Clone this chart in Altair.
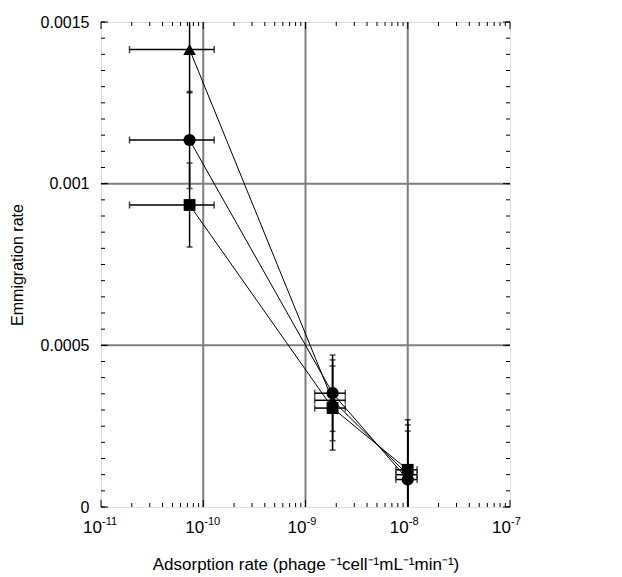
import altair as alt
import pandas as pd

# ---- data ----
series = ["triangle", "circle", "square"]
x_vals = [7.35e-11, 1.84e-9, 1.0e-8]
x_errs = [5.45e-11, 6.1e-10, 2.35e-9]
y_triangle = [0.001415, 0.00033, 0.0001]
e_triangle = [0.000134, 0.000125, 0.000154]
y_circle = [0.001135, 0.000352, 0.000085]
e_circle = [0.00015, 0.000118, 0.00015]
y_square = [0.000934, 0.000306, 0.000115]
e_square = [0.00013, 0.00013, 0.000155]

x_major = [1e-11, 1e-10, 1e-9, 1e-8, 1e-7]
x_exponents = ["-11", "-10", "-9", "-8", "-7"]
x_grid = [1e-10, 1e-9, 1e-8]
minor_mantissas = [2, 3, 4, 5, 6, 7, 8, 9]
decades = [1e-11, 1e-10, 1e-9, 1e-8]
y_labels = [0, 0.0005, 0.001, 0.0015]
y_grid = [0.0005, 0.001]
y_minor_count = 31
y_minor_step = 0.00005

# ---- layout ----
W, H = 409, 485
FONT = "Liberation Sans"
MAJ, MIN = 7, 4

ys_map = {"triangle": (y_triangle, e_triangle),
          "circle": (y_circle, e_circle),
          "square": (y_square, e_square)}
rows = []
for s in series:
    yv, ye = ys_map[s]
    for i in range(len(x_vals)):
        rows.append(dict(series=s, idx=i, x=x_vals[i], y=yv[i],
                         xlo=x_vals[i] - x_errs[i], xhi=x_vals[i] + x_errs[i],
                         ylo=yv[i] - ye[i], yhi=yv[i] + ye[i]))
pts = pd.DataFrame(rows)

xcaps = pd.concat([pts[["xlo", "y"]].rename(columns={"xlo": "x"}),
                   pts[["xhi", "y"]].rename(columns={"xhi": "x"})])
ycaps = pd.concat([pts[["x", "ylo"]].rename(columns={"ylo": "y"}),
                   pts[["x", "yhi"]].rename(columns={"yhi": "y"})])

x_minor = pd.DataFrame({"v": [m * d for d in decades for m in minor_mantissas]})
x_maj = pd.DataFrame({"v": x_major, "base": ["10"] * len(x_major), "exp": x_exponents})
y_minor = pd.DataFrame({"v": [i * y_minor_step for i in range(y_minor_count)]})
y_maj = pd.DataFrame({"v": y_labels})

xs = alt.Scale(type="log", domain=[1e-11, 1e-7])
ysc = alt.Scale(domain=[0, 0.0015], nice=False, zero=False)

x_axis = alt.Axis(labels=False, ticks=False, domain=False, grid=False,
                  title="Adsorption rate (phage \u207b\u00b9cell\u207b\u00b9mL\u207b\u00b9min\u207b\u00b9)",
                  titleY=57, titleBaseline="middle", titleFontSize=17,
                  titleFontWeight="normal", titleColor="black", titleFont=FONT)
y_axis = alt.Axis(values=y_labels, format="~g", ticks=False, domain=False, grid=False,
                  labelPadding=12, labelFontSize=16, labelColor="black", labelFont=FONT,
                  title="Emmigration rate", titleX=-84, titleY=H / 2, titleAngle=-90,
                  titleBaseline="middle", titleFontSize=16, titleFontWeight="normal",
                  titleColor="black", titleFont=FONT)

X = lambda f: alt.X(f, scale=xs, axis=x_axis)
Y = lambda f: alt.Y(f, scale=ysc, axis=y_axis)

grid_x = alt.Chart(pd.DataFrame({"v": x_grid})).mark_rule(color="#7f7f7f", strokeWidth=2).encode(x=X("v:Q"))
grid_y = alt.Chart(pd.DataFrame({"v": y_grid})).mark_rule(color="#7f7f7f", strokeWidth=2).encode(y=Y("v:Q"))

def xticks(df, ln):
    b = alt.Chart(df).mark_rule(color="black", strokeWidth=1).encode(
        x=X("v:Q"), y=alt.value(H), y2=alt.value(H - ln))
    t = alt.Chart(df).mark_rule(color="black", strokeWidth=1).encode(
        x=X("v:Q"), y=alt.value(0), y2=alt.value(ln))
    return b + t

def yticks(df, ln):
    l = alt.Chart(df).mark_rule(color="black", strokeWidth=1).encode(
        y=Y("v:Q"), x=alt.value(0), x2=alt.value(ln))
    r = alt.Chart(df).mark_rule(color="black", strokeWidth=1).encode(
        y=Y("v:Q"), x=alt.value(W), x2=alt.value(W - ln))
    return l + r

xlab = alt.Chart(x_maj).mark_text(align="right", baseline="top", dx=1, fontSize=17,
                                  font=FONT, color="black").encode(
    x=X("v:Q"), y=alt.value(H + 13), text="base:N")
xexp = alt.Chart(x_maj).mark_text(align="left", baseline="top", dx=1, fontSize=11,
                                  font=FONT, color="black").encode(
    x=X("v:Q"), y=alt.value(H + 9), text="exp:N")

xerr = alt.Chart(pts).mark_rule(color="black", strokeWidth=1.5, clip=True).encode(
    x=X("xlo:Q"), x2="xhi:Q", y=Y("y:Q"))
yerr = alt.Chart(pts).mark_rule(color="black", strokeWidth=1.5, clip=True).encode(
    x=X("x:Q"), y=Y("ylo:Q"), y2="yhi:Q")
xcap = alt.Chart(xcaps).mark_tick(orient="vertical", size=7, thickness=1.5,
                                  color="black", clip=True).encode(x=X("x:Q"), y=Y("y:Q"))
ycap = alt.Chart(ycaps).mark_tick(orient="horizontal", size=6, thickness=1.5,
                                  color="black", clip=True).encode(x=X("x:Q"), y=Y("y:Q"))

lines = alt.Chart(pts).mark_line(color="black", strokeWidth=1).encode(
    x=X("x:Q"), y=Y("y:Q"), detail="series:N", order="idx:Q")
points = alt.Chart(pts).mark_point(filled=True, opacity=1, color="black", strokeWidth=0).encode(
    x=X("x:Q"), y=Y("y:Q"),
    shape=alt.Shape("series:N", scale=alt.Scale(domain=series, range=["triangle-up", "circle", "square"]), legend=None),
    size=alt.Size("series:N", scale=alt.Scale(domain=series, range=[160, 140, 165]), legend=None))

chart = alt.layer(
    grid_x, grid_y,
    xticks(x_minor, MIN), xticks(pd.DataFrame({"v": x_major}), MAJ),
    yticks(y_minor, MIN), yticks(y_maj, MAJ),
    xerr, yerr, xcap, ycap, lines, points, xlab, xexp
).properties(
    width=W, height=H,
    autosize=alt.AutoSizeParams(type="none"),
    padding={"left": 93, "top": 14, "right": 60, "bottom": 68},
).configure_view(stroke="black", strokeWidth=2).configure(background="white")

chart.save("out.html", embed_options={"renderer": "svg", "actions": False})
